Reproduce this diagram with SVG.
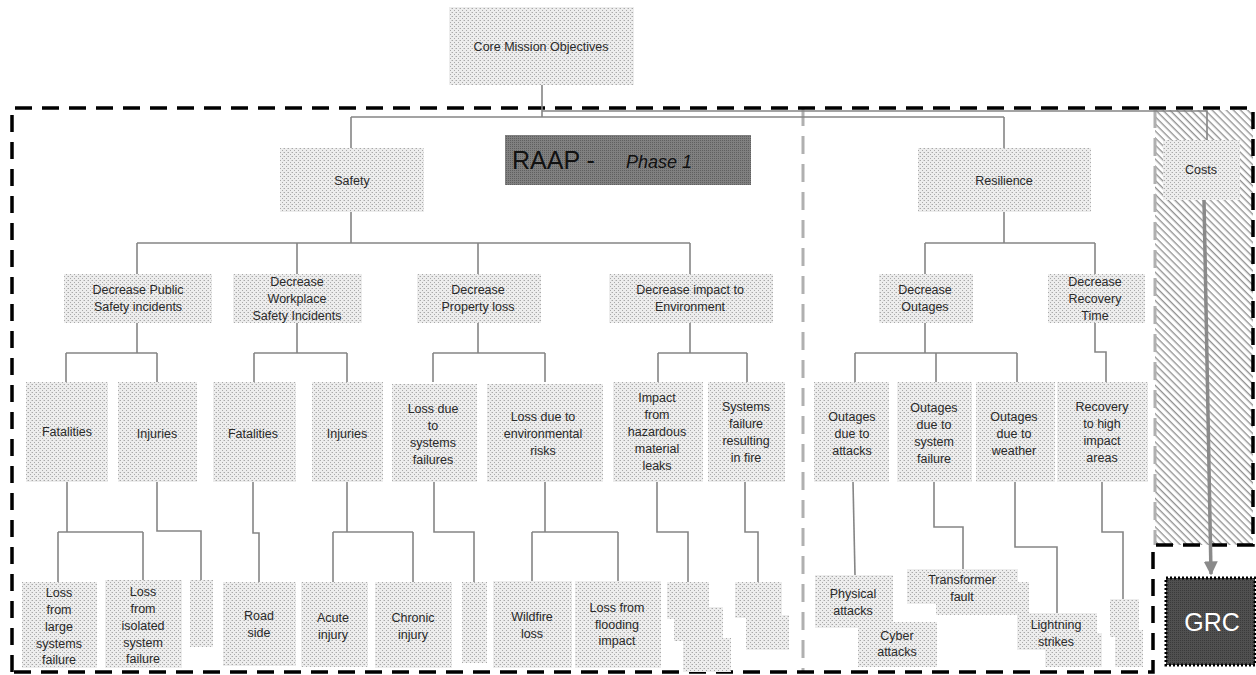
<svg xmlns="http://www.w3.org/2000/svg" width="1256" height="675" viewBox="0 0 1256 675">
<defs>
<pattern id="stip" width="4" height="4" patternUnits="userSpaceOnUse">
<rect width="4" height="4" fill="#ededed"/>
<rect x="0" y="0" width="1" height="1" fill="#a9a9a9"/>
<rect x="2" y="2" width="1" height="1" fill="#a9a9a9"/>
<rect x="3" y="0" width="1" height="1" fill="#d0d0d0"/>
</pattern>
<pattern id="dark" width="2" height="2" patternUnits="userSpaceOnUse">
<rect width="2" height="2" fill="#808080"/>
<rect x="0" y="0" width="1" height="1" fill="#5f5f5f"/>
</pattern>
<pattern id="darker" width="2" height="2" patternUnits="userSpaceOnUse">
<rect width="2" height="2" fill="#505050"/>
<rect x="0" y="0" width="1" height="1" fill="#3a3a3a"/>
</pattern>
<pattern id="hatch" width="5" height="5" patternUnits="userSpaceOnUse" patternTransform="rotate(45)">
<rect width="5" height="5" fill="#ffffff"/>
<line x1="0" y1="0.7" x2="5" y2="0.7" stroke="#8c8c8c" stroke-width="1.3"/>
</pattern>
<marker id="arr" viewBox="0 0 10 10" refX="9" refY="5" markerWidth="4" markerHeight="4" orient="auto">
<path d="M0,0 L10,5 L0,10 Z" fill="#8a8a8a"/>
</marker>
<style>
.box{fill:url(#stip)}
.t{font-family:"Liberation Sans",Arial,sans-serif;font-size:12.5px;fill:#2a2a2a;text-anchor:middle}
.c{fill:none;stroke:#858585;stroke-width:1.6}
.outer{fill:none;stroke:#000;stroke-width:3.5;stroke-dasharray:17 10}
.gdash{fill:none;stroke:#b0b0b0;stroke-width:3;stroke-dasharray:18 10}
</style>
</defs>
<rect width="1256" height="675" fill="#ffffff"/>

<g id="costs-region">
<rect x="1155" y="110" width="98" height="435" fill="url(#hatch)"/>
<line class="gdash" x1="1155" y1="110" x2="1155" y2="545"/>
</g>

<g id="divider">
<line class="gdash" x1="803" y1="108" x2="803" y2="672"/>
</g>

<g id="boundary">
<path class="outer" d="M12,672 V108 H1253 V545 H1153 V672 Z"/>
</g>

<g id="connectors">
<path class="c" d="M542,85 V117 M351,117 H1004 M351,117 V148 M1004,117 V148"/>
<path class="c" d="M542,111 H1207 V140"/>
<path class="c" d="M351,212 V243 M137,243 H690 M137,243 V274 M297,243 V274 M478,243 V274 M690,243 V274"/>
<path class="c" d="M1004,212 V243 M925,243 H1095 M925,243 V274 M1095,243 V274"/>
<path class="c" d="M137,323 V353 M66,353 H157 M66,353 V382 M157,353 V382"/>
<path class="c" d="M297,323 V353 M254,353 H347 M254,353 V382 M347,353 V382"/>
<path class="c" d="M478,323 V353 M433,353 H545 M433,353 V382 M545,353 V382"/>
<path class="c" d="M690,323 V353 M658,353 H747 M658,353 V382 M747,353 V382"/>
<path class="c" d="M925,323 V353 M855,353 H1017 M855,353 V382 M936,353 V382 M1017,353 V382"/>
<path class="c" d="M1095,323 V352 H1106 V382"/>
<path class="c" d="M67,482 V532 M58,532 H143 M58,532 V582 M143,532 V580"/>
<path class="c" d="M157,482 V531 H201 V580"/>
<path class="c" d="M253,482 V533 H259 V582"/>
<path class="c" d="M347,482 V532 M333,532 H413 M333,532 V582 M413,532 V582"/>
<path class="c" d="M434,482 V532 H474 V582"/>
<path class="c" d="M545,482 V532 M532,532 H618 M532,532 V581 M618,532 V581"/>
<path class="c" d="M657,482 V532 H688 V582"/>
<path class="c" d="M745,482 V532 H758 V582"/>
<path class="c" d="M853,482 L855,575"/>
<path class="c" d="M934,482 V527 H963 V569"/>
<path class="c" d="M1015,482 V547 H1057 V613"/>
<path class="c" d="M1102,482 V532 H1123 V599"/>
<line x1="1204" y1="200" x2="1211" y2="574" stroke="#8a8a8a" stroke-width="3.5" marker-end="url(#arr)"/>
</g>

<g id="n-core"><rect class="box" x="449" y="7" width="185" height="78"/><text class="t" x="541" y="51">Core  Mission Objectives</text></g>
<g id="n-raap"><rect x="505" y="135" width="246" height="50" fill="url(#dark)"/><text x="512" y="169" font-family="Liberation Sans,Arial,sans-serif" font-size="25" fill="#111">RAAP - </text><text x="626" y="168" font-family="Liberation Sans,Arial,sans-serif" font-size="18" font-style="italic" fill="#111">Phase 1</text></g>
<g id="n-safety"><rect class="box" x="280" y="148" width="144" height="64"/><text class="t" x="352" y="185">Safety</text></g>
<g id="n-resilience"><rect class="box" x="918" y="148" width="173" height="64"/><text class="t" x="1004" y="185">Resilience</text></g>
<g id="n-costs"><rect class="box" x="1163" y="140" width="77" height="60"/><text class="t" x="1201" y="174">Costs</text></g>
<g id="n-grc"><rect x="1166" y="578" width="89" height="87" fill="url(#darker)" stroke="#000" stroke-width="3" stroke-dasharray="2 2"/><text x="1212" y="631" font-family="Liberation Sans,Arial,sans-serif" font-size="25" fill="#ffffff" text-anchor="middle">GRC</text></g>

<g id="n-dec-public"><rect class="box" x="64" y="274" width="148" height="49"/><text class="t"><tspan x="138" y="294">Decrease  Public</tspan><tspan x="138" y="311">Safety incidents</tspan></text></g>
<g id="n-dec-work"><rect class="box" x="233" y="274" width="129" height="49"/><text class="t"><tspan x="297" y="286">Decrease</tspan><tspan x="297" y="303">Workplace</tspan><tspan x="297" y="320">Safety Incidents</tspan></text></g>
<g id="n-dec-prop"><rect class="box" x="417" y="274" width="124" height="49"/><text class="t"><tspan x="478" y="294">Decrease</tspan><tspan x="478" y="311">Property loss</tspan></text></g>
<g id="n-dec-env"><rect class="box" x="609" y="274" width="164" height="49"/><text class="t"><tspan x="690" y="294">Decrease impact to</tspan><tspan x="690" y="311">Environment</tspan></text></g>
<g id="n-dec-out"><rect class="box" x="879" y="274" width="94" height="49"/><text class="t"><tspan x="925" y="294">Decrease</tspan><tspan x="925" y="311">Outages</tspan></text></g>
<g id="n-dec-rec"><rect class="box" x="1048" y="274" width="97" height="49"/><text class="t"><tspan x="1095" y="286">Decrease</tspan><tspan x="1095" y="303">Recovery</tspan><tspan x="1095" y="320">Time</tspan></text></g>

<g id="n-fat1"><rect class="box" x="26" y="382" width="82" height="100"/><text class="t" x="67" y="436">Fatalities</text></g>
<g id="n-inj1"><rect class="box" x="118" y="382" width="79" height="100"/><text class="t" x="157" y="438">Injuries</text></g>
<g id="n-fat2"><rect class="box" x="213" y="382" width="83" height="100"/><text class="t" x="253" y="438">Fatalities</text></g>
<g id="n-inj2"><rect class="box" x="312" y="382" width="71" height="100"/><text class="t" x="347" y="438">Injuries</text></g>
<g id="n-loss-sys"><rect class="box" x="392" y="384" width="85" height="98"/><text class="t"><tspan x="433" y="413">Loss due</tspan><tspan x="433" y="430">to</tspan><tspan x="433" y="447">systems</tspan><tspan x="433" y="464">failures</tspan></text></g>
<g id="n-loss-env"><rect class="box" x="487" y="384" width="116" height="98"/><text class="t"><tspan x="543" y="421">Loss due to</tspan><tspan x="543" y="438">environmental</tspan><tspan x="543" y="455">risks</tspan></text></g>
<g id="n-hazmat"><rect class="box" x="613" y="382" width="90" height="100"/><text class="t"><tspan x="657" y="402">Impact</tspan><tspan x="657" y="419">from</tspan><tspan x="657" y="436">hazardous</tspan><tspan x="657" y="453">material</tspan><tspan x="657" y="470">leaks</tspan></text></g>
<g id="n-fire"><rect class="box" x="708" y="382" width="77" height="100"/><text class="t"><tspan x="746" y="411">Systems</tspan><tspan x="746" y="428">failure</tspan><tspan x="746" y="445">resulting</tspan><tspan x="746" y="462">in fire</tspan></text></g>
<g id="n-out-att"><rect class="box" x="814" y="382" width="75" height="100"/><text class="t"><tspan x="852" y="421">Outages</tspan><tspan x="852" y="438">due to</tspan><tspan x="852" y="455">attacks</tspan></text></g>
<g id="n-out-sys"><rect class="box" x="897" y="382" width="75" height="100"/><text class="t"><tspan x="934" y="412">Outages</tspan><tspan x="934" y="429">due to</tspan><tspan x="934" y="446">system</tspan><tspan x="934" y="463">failure</tspan></text></g>
<g id="n-out-wea"><rect class="box" x="976" y="382" width="79" height="100"/><text class="t"><tspan x="1014" y="421">Outages</tspan><tspan x="1014" y="438">due to</tspan><tspan x="1014" y="455">weather</tspan></text></g>
<g id="n-rec-high"><rect class="box" x="1057" y="382" width="91" height="100"/><text class="t"><tspan x="1102" y="411">Recovery</tspan><tspan x="1102" y="428">to  high</tspan><tspan x="1102" y="445">impact</tspan><tspan x="1102" y="462">areas</tspan></text></g>

<g id="n-loss-large"><rect class="box" x="22" y="582" width="75" height="86"/><text class="t"><tspan x="59" y="597">Loss</tspan><tspan x="59" y="614">from</tspan><tspan x="59" y="631">large</tspan><tspan x="59" y="648">systems</tspan><tspan x="59" y="664">failure</tspan></text></g>
<g id="n-loss-iso"><rect class="box" x="105" y="580" width="77" height="88"/><text class="t"><tspan x="143" y="596">Loss</tspan><tspan x="143" y="613">from</tspan><tspan x="143" y="630">isolated</tspan><tspan x="143" y="647">system</tspan><tspan x="143" y="663">failure</tspan></text></g>
<g id="n-inj1-child"><rect class="box" x="190" y="580" width="23" height="67"/></g>
<g id="n-road"><rect class="box" x="223" y="582" width="73" height="84"/><text class="t"><tspan x="259" y="620">Road</tspan><tspan x="259" y="637">side</tspan></text></g>
<g id="n-acute"><rect class="box" x="301" y="582" width="67" height="85"/><text class="t"><tspan x="333" y="622">Acute</tspan><tspan x="333" y="639">injury</tspan></text></g>
<g id="n-chronic"><rect class="box" x="375" y="582" width="77" height="86"/><text class="t"><tspan x="413" y="622">Chronic</tspan><tspan x="413" y="639">injury</tspan></text></g>
<g id="n-sys-child"><rect class="box" x="462" y="582" width="25" height="81"/></g>
<g id="n-wildfire"><rect class="box" x="493" y="581" width="79" height="87"/><text class="t"><tspan x="532" y="621">Wildfire</tspan><tspan x="532" y="638">loss</tspan></text></g>
<g id="n-flood"><rect class="box" x="575" y="581" width="86" height="87"/><text class="t"><tspan x="617" y="612">Loss from</tspan><tspan x="617" y="629">flooding</tspan><tspan x="617" y="645">impact</tspan></text></g>
<g id="n-hazmat-children"><rect class="box" x="667" y="582" width="42" height="37"/><rect class="box" x="674" y="607" width="49" height="34"/><rect class="box" x="683" y="638" width="48" height="34"/></g>
<g id="n-fire-children"><rect class="box" x="735" y="582" width="47" height="36"/><rect class="box" x="746" y="615" width="43" height="35"/></g>
<g id="n-physical"><rect class="box" x="815" y="575" width="78" height="53"/><text class="t"><tspan x="853" y="598">Physical</tspan><tspan x="853" y="615">attacks</tspan></text></g>
<g id="n-cyber"><rect class="box" x="858" y="622" width="79" height="45"/><text class="t"><tspan x="897" y="640">Cyber</tspan><tspan x="897" y="656">attacks</tspan></text></g>
<g id="n-transformer"><rect class="box" x="936" y="582" width="93" height="33"/><rect class="box" x="907" y="569" width="111" height="35"/><text class="t"><tspan x="962" y="584">Transformer</tspan><tspan x="962" y="601">fault</tspan></text></g>
<g id="n-lightning"><rect class="box" x="1045" y="633" width="57" height="34"/><rect class="box" x="1017" y="613" width="80" height="37"/><text class="t"><tspan x="1056" y="629">Lightning</tspan><tspan x="1056" y="646">strikes</tspan></text></g>
<g id="n-rec-children"><rect class="box" x="1110" y="599" width="29" height="38"/><rect class="box" x="1115" y="630" width="28" height="37"/></g>
</svg>
